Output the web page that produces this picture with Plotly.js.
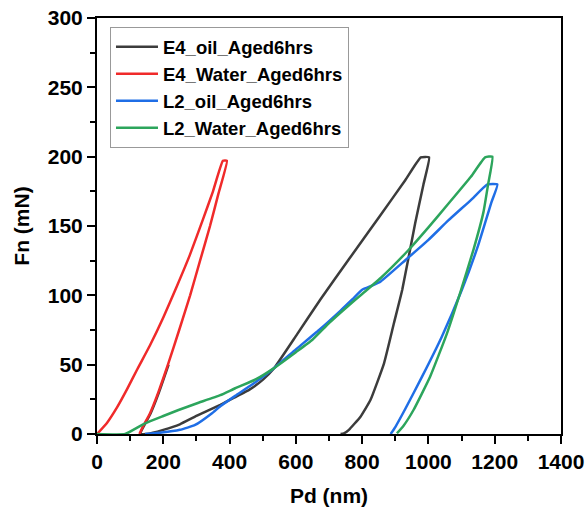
<!DOCTYPE html>
<html><head><meta charset="utf-8">
<script src="https://cdn.plot.ly/plotly-3.0.1.min.js"></script>
<style>body{margin:0;background:#fff}#c{width:585px;height:514px}</style>
</head><body><div id="c"></div>
<script>
// E4_oil_Aged6hrs
const e4OilX = [216,187,162,142,130,150,200,250,300,372,420,460,500,533,604,674,760,853,930,977,1002,985,960,921,896,866,825,795,760,745,735];
const e4OilY = [50,30,15,6,0,0,3,7,13,21,27,32,39,47,72,97,126,157,183,199.5,199.5,180,152,104,80,51,24.5,12.5,3,0.5,0];
// E4_Water_Aged6hrs
const e4WaterX = [0,30,60,90,120,160,200,240,280,320,350,380,392,366,341,311,281,248,214,185,160,140,128];
const e4WaterY = [0,8,19,32,46,64,84,106,129,155,175,197,197,173,150,125,100,75,50,30,15,6,0];
// L2_oil_Aged6hrs
const l2OilX = [145,195,250,296,347,372,417,470,533,600,670,735,770,800,830,856,931,1000,1060,1128,1178,1208,1190,1150,1101,1040,980,930,900,886];
const l2OilY = [0,1,3,6.5,15,20,27.5,36,47.3,61,75,89,97,104,107,110,125.5,140,154,168.7,180,180,167,136,104,70,41,18,5,0];
// L2_Water_Aged6hrs
const l2WaterX = [0,85,145,200,246,300,372,417,480,533,600,650,700,755,800,856,940,1000,1060,1128,1171,1193,1180,1166,1136,1096,1056,1005,955,925,905];
const l2WaterY = [0,0,7.7,13,17.3,22,28,33,39.5,47.3,59,68,80,91.8,101,112.5,132.7,149,166,185.5,199.5,200,180,160,133,102,72.6,41.3,17.3,6,0.5];

const names = ['E4_oil_Aged6hrs','E4_Water_Aged6hrs','L2_oil_Aged6hrs','L2_Water_Aged6hrs'];
const colors = ['#3c3c3c','#f02a2a','#1f6ee6','#2ca55c'];
const xs = [e4OilX,e4WaterX,l2OilX,l2WaterX];
const ys = [e4OilY,e4WaterY,l2OilY,l2WaterY];

const data = names.map((n,i)=>({
  x: xs[i], y: ys[i], name: n, type:'scatter', mode:'lines',
  line:{color:colors[i], width:2.5, shape:'spline', smoothing:0.4}
}));

const fam = 'Arial, "Liberation Sans", sans-serif';
const tfnt = {family:fam, size:21, color:'#000', weight:'bold'};
const layout = {
  width:585, height:514,
  margin:{l:97, r:24, t:18, b:80},
  paper_bgcolor:'#fff', plot_bgcolor:'#fff',
  showlegend:true,
  legend:{x:0.028, y:0.978, xanchor:'left', yanchor:'top', bgcolor:'#fff',
    bordercolor:'#999', borderwidth:1, itemwidth:42,
    font:{family:fam, size:18.5, color:'#000', weight:'bold'},
    tracegroupgap:0},
  xaxis:{range:[0,1400], dtick:200, tick0:0, showgrid:false, zeroline:false,
    showline:true, linecolor:'#000', linewidth:2, mirror:true,
    ticks:'outside', ticklen:8, tickwidth:2, tickcolor:'#000',
    minor:{dtick:100, ticks:'outside', ticklen:5, tickwidth:2, tickcolor:'#000'},
    tickfont:tfnt, title:{text:'Pd (nm)', font:tfnt, standoff:16}},
  yaxis:{range:[0,300], dtick:50, tick0:0, showgrid:false, zeroline:false,
    showline:true, linecolor:'#000', linewidth:2, mirror:true,
    ticks:'outside', ticklen:8, tickwidth:2, tickcolor:'#000',
    minor:{dtick:25, ticks:'outside', ticklen:5, tickwidth:2, tickcolor:'#000'},
    tickfont:tfnt, title:{text:'Fn (mN)', font:tfnt, standoff:12}}
};
Plotly.newPlot('c', data, layout, {displayModeBar:false, staticPlot:true});
</script></body></html>
